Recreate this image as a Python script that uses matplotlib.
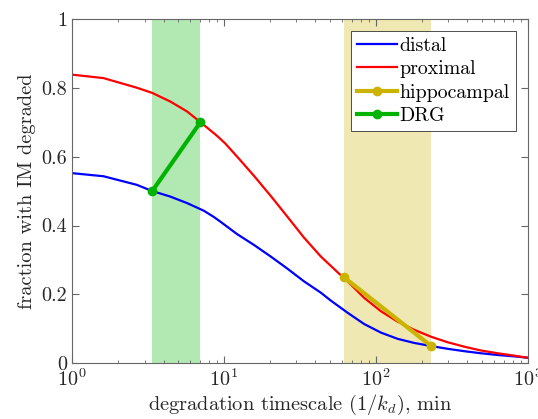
import numpy as np
import matplotlib
matplotlib.use("Agg")
import matplotlib.pyplot as plt
from matplotlib.ticker import LogLocator, NullFormatter

plt.rcParams["font.family"] = "serif"
plt.rcParams["font.serif"] = ["cmr10"]
plt.rcParams["mathtext.fontset"] = "cm"
plt.rcParams["axes.formatter.use_mathtext"] = True

# values
prox_t = [1.0, 1.61, 2.67, 3.37, 4.43, 5.72, 7.0, 9.02, 10.2, 12.2, 15.7, 20.3, 26.1,
          33.6, 43.4, 57.3, 61.5, 83.7, 108, 139, 179, 231, 297, 383, 493, 635, 818, 1000]
prox_y = [0.838, 0.828, 0.800, 0.785, 0.760, 0.731, 0.700, 0.660, 0.638, 0.600, 0.545,
          0.486, 0.426, 0.365, 0.310, 0.260, 0.249, 0.190, 0.151, 0.121, 0.097, 0.077,
          0.061, 0.048, 0.037, 0.029, 0.022, 0.016]

dist_t = [1.0, 1.61, 2.67, 3.37, 4.43, 5.72, 7.36, 8.56, 9.48, 12.2, 15.7, 20.3, 26.1,
          33.6, 43.4, 50.5, 65.0, 83.7, 108, 139, 179, 231, 297, 383, 493, 635, 818, 1000]
dist_y = [0.552, 0.543, 0.518, 0.500, 0.484, 0.465, 0.443, 0.425, 0.411, 0.375, 0.344,
          0.310, 0.275, 0.238, 0.205, 0.182, 0.147, 0.114, 0.089, 0.071, 0.059, 0.050,
          0.042, 0.035, 0.029, 0.024, 0.020, 0.016]

hippo_t = [61.5, 231.0]
hippo_y = [0.25, 0.05]
drg_t = [3.37, 7.0]
drg_y = [0.50, 0.70]

green = (0.0, 0.7, 0.0)
gold = (0.8, 0.7, 0.0)

fig = plt.figure(figsize=(5.38, 4.19), dpi=100)
ax = fig.add_axes([0.134, 0.133, 0.847, 0.822])

ax.plot(dist_t, dist_y, color="blue", lw=1.6, label="distal")
ax.plot(prox_t, prox_y, color="red", lw=1.6, label="proximal")

ax.axvspan(drg_t[0], drg_t[1], color=green, alpha=0.3, lw=0)
ax.axvspan(hippo_t[0], hippo_t[1], color=gold, alpha=0.3, lw=0)

ax.plot(hippo_t, hippo_y, color=gold, lw=3, marker="o", ms=6, label="hippocampal")
ax.plot(drg_t, drg_y, color=green, lw=3, marker="o", ms=6, label="DRG")

ax.set_xscale("log")
ax.set_xlim(1, 1000)
ax.set_ylim(0, 1)
ax.set_yticks([0, 0.2, 0.4, 0.6, 0.8, 1])
ax.set_yticklabels(["0", "0.2", "0.4", "0.6", "0.8", "1"])
ax.xaxis.set_minor_locator(LogLocator(base=10, subs=np.arange(2, 10)))
ax.xaxis.set_minor_formatter(NullFormatter())

for s in ax.spines.values():
    s.set_color("0.4")
    s.set_linewidth(0.8)
ax.tick_params(which="both", direction="in", top=True, right=True, colors="0.4",
               labelcolor="0.15", labelsize=14.5)
ax.tick_params(which="major", length=5)
ax.tick_params(which="minor", length=2.5)

ax.set_xlabel("degradation timescale $(1/k_d)$, min", fontsize=14.7, color="0.15", labelpad=2)
ax.set_ylabel("fraction with IM degraded", fontsize=14.7, color="0.15")

leg = ax.legend(loc="upper right", fontsize=14.3, fancybox=False, framealpha=1,
                edgecolor="0.2", borderpad=0.3, labelspacing=0.28, handlelength=2.0,
                handletextpad=0.15, borderaxespad=0.6)
leg.get_frame().set_linewidth(0.6)

fig.savefig("out.png", dpi=100)
